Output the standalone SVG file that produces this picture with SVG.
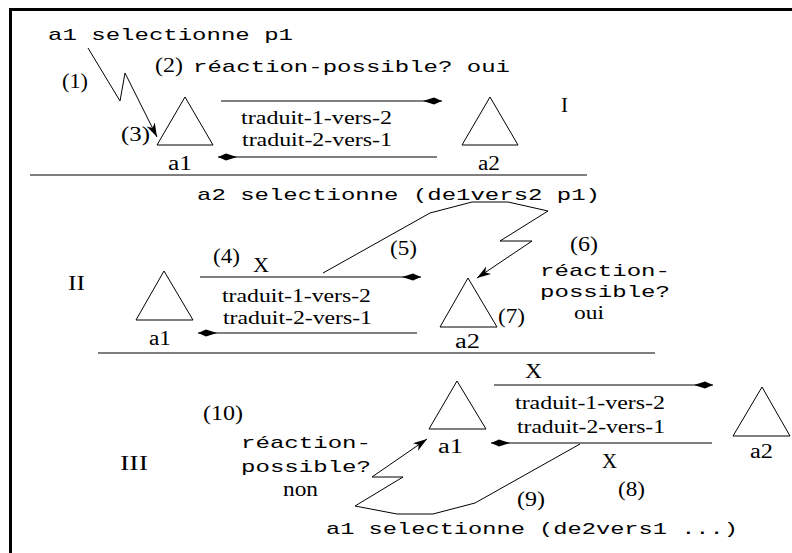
<svg xmlns="http://www.w3.org/2000/svg" width="792" height="553" viewBox="0 0 792 553">
<style>
.tri{fill:none;stroke:#000;stroke-width:1}
.ln{fill:none;stroke:#000;stroke-width:1}
.sep{fill:none;stroke:#000;stroke-width:1.2}
.sr{font-family:"Liberation Serif","Times New Roman",serif;font-size:20px;fill:#000}
.tr{font-family:"Liberation Serif","Times New Roman",serif;font-size:18px;fill:#000}
.mo{font-family:"Liberation Mono","Courier New",monospace;font-size:17px;fill:#000}
</style>
<defs>
<marker id="dart" markerUnits="userSpaceOnUse" markerWidth="22" markerHeight="10" viewBox="-20 -5 22 10" refX="0" refY="0" orient="auto">
<path d="M0,0 L-8,-3.6 L-19,0 L-8,3.6 z" fill="#000"/>
</marker>
<marker id="barb" markerUnits="userSpaceOnUse" markerWidth="16" markerHeight="12" viewBox="-15 -6 16 12" refX="0" refY="0" orient="auto">
<path d="M0,0 L-14,-4.5 L-10,0 L-14,4.5 z" fill="#000"/>
</marker>
</defs>
<rect width="792" height="553" fill="#fff"/>
<path d="M10.5,553 V9.5 H792" fill="none" stroke="#000" stroke-width="3"/>

<g id="separators">
<line class="sep" x1="30" y1="175" x2="587" y2="175"/>
<line class="sep" x1="98" y1="353" x2="655" y2="353"/>
</g>

<g id="node-I-a1">
<polygon class="tri" points="185,97 157,145 213,145"/>
<text class="sr" x="168" y="170" textLength="24" lengthAdjust="spacingAndGlyphs">a1</text>
</g>
<g id="node-I-a2">
<polygon class="tri" points="490,97 462,145 518,145"/>
<text class="sr" x="478" y="170" textLength="22" lengthAdjust="spacingAndGlyphs">a2</text>
</g>
<g id="node-II-a1">
<polygon class="tri" points="164,271 136,320 193,320"/>
<text class="sr" x="149" y="345" textLength="22" lengthAdjust="spacingAndGlyphs">a1</text>
</g>
<g id="node-II-a2">
<polygon class="tri" points="468,278 440,327 497,327"/>
<text class="sr" x="455" y="348" textLength="25" lengthAdjust="spacingAndGlyphs">a2</text>
</g>
<g id="node-III-a1">
<polygon class="tri" points="457,381 429,429 486,429"/>
<text class="sr" x="438" y="453" textLength="25" lengthAdjust="spacingAndGlyphs">a1</text>
</g>
<g id="node-III-a2">
<polygon class="tri" points="762,387 733,436 790,436"/>
<text class="sr" x="750" y="458" textLength="23" lengthAdjust="spacingAndGlyphs">a2</text>
</g>

<g id="connectors">
<polyline class="ln" points="88,48 120,101 125,73 157,137" marker-end="url(#barb)"/>
<line class="ln" x1="221" y1="101" x2="442" y2="101" marker-end="url(#dart)"/>
<line class="ln" x1="437" y1="157" x2="218" y2="157" marker-end="url(#dart)"/>
<line class="ln" x1="200" y1="277" x2="421" y2="277" marker-end="url(#dart)"/>
<line class="ln" x1="417" y1="333" x2="198" y2="333" marker-end="url(#dart)"/>
<polyline class="ln" points="323,273 430,213 472,202 508,202 548,211 500,241 532,241 477,278" marker-end="url(#barb)"/>
<line class="ln" x1="494" y1="385" x2="713" y2="385" marker-end="url(#dart)"/>
<line class="ln" x1="712" y1="443" x2="491" y2="443" marker-end="url(#dart)"/>
<polyline class="ln" points="580,444 475,503 433,514 397,514 355,506 403,477 372,477 427,439" marker-end="url(#barb)"/>
</g>

<g id="labels">
<text class="mo" x="48" y="40" textLength="245" lengthAdjust="spacingAndGlyphs">a1 selectionne p1</text>
<text class="sr" x="62" y="88" textLength="26" lengthAdjust="spacingAndGlyphs">(1)</text>
<text class="sr" x="155" y="72" textLength="28" lengthAdjust="spacingAndGlyphs">(2)</text>
<text class="mo" x="193" y="72" textLength="317" lengthAdjust="spacingAndGlyphs">réaction-possible? oui</text>
<text class="sr" x="121" y="141" textLength="29" lengthAdjust="spacingAndGlyphs">(3)</text>
<text class="tr" x="241" y="124" textLength="151" lengthAdjust="spacingAndGlyphs">traduit-1-vers-2</text>
<text class="tr" x="242" y="146" textLength="150" lengthAdjust="spacingAndGlyphs">traduit-2-vers-1</text>
<text class="sr" x="561" y="112" textLength="7" lengthAdjust="spacingAndGlyphs">I</text>

<text class="mo" x="197" y="200" textLength="403" lengthAdjust="spacingAndGlyphs">a2 selectionne (de1vers2 p1)</text>
<text class="sr" x="213" y="263" textLength="27" lengthAdjust="spacingAndGlyphs">(4)</text>
<text class="sr" x="253" y="272" textLength="16" lengthAdjust="spacingAndGlyphs">X</text>
<text class="sr" x="390" y="255" textLength="27" lengthAdjust="spacingAndGlyphs">(5)</text>
<text class="tr" x="222" y="302" textLength="149" lengthAdjust="spacingAndGlyphs">traduit-1-vers-2</text>
<text class="tr" x="223" y="324" textLength="149" lengthAdjust="spacingAndGlyphs">traduit-2-vers-1</text>
<text class="sr" x="68" y="290" textLength="17" lengthAdjust="spacingAndGlyphs">II</text>
<text class="sr" x="498" y="323" textLength="27" lengthAdjust="spacingAndGlyphs">(7)</text>
<text class="sr" x="570" y="251" textLength="28" lengthAdjust="spacingAndGlyphs">(6)</text>
<text class="mo" x="540" y="276" textLength="130" lengthAdjust="spacingAndGlyphs">réaction-</text>
<text class="mo" x="540" y="297" textLength="130" lengthAdjust="spacingAndGlyphs">possible?</text>
<text class="sr" x="574" y="319" textLength="30" lengthAdjust="spacingAndGlyphs" style="font-size:18px">oui</text>

<text class="sr" x="525" y="378" textLength="17" lengthAdjust="spacingAndGlyphs">X</text>
<text class="tr" x="515" y="409" textLength="150" lengthAdjust="spacingAndGlyphs">traduit-1-vers-2</text>
<text class="tr" x="517" y="433" textLength="148" lengthAdjust="spacingAndGlyphs">traduit-2-vers-1</text>
<text class="sr" x="602" y="468" textLength="15" lengthAdjust="spacingAndGlyphs">X</text>
<text class="sr" x="618" y="496" textLength="27" lengthAdjust="spacingAndGlyphs">(8)</text>
<text class="sr" x="517" y="506" textLength="28" lengthAdjust="spacingAndGlyphs">(9)</text>
<text class="sr" x="203" y="420" textLength="40" lengthAdjust="spacingAndGlyphs">(10)</text>
<text class="mo" x="241" y="448" textLength="130" lengthAdjust="spacingAndGlyphs">réaction-</text>
<text class="mo" x="241" y="472" textLength="130" lengthAdjust="spacingAndGlyphs">possible?</text>
<text class="sr" x="283" y="496" textLength="35" lengthAdjust="spacingAndGlyphs">non</text>
<text class="sr" x="120" y="470" textLength="28" lengthAdjust="spacingAndGlyphs">III</text>
<text class="mo" x="326" y="534" textLength="412" lengthAdjust="spacingAndGlyphs">a1 selectionne (de2vers1 ...)</text>
</g>
</svg>
